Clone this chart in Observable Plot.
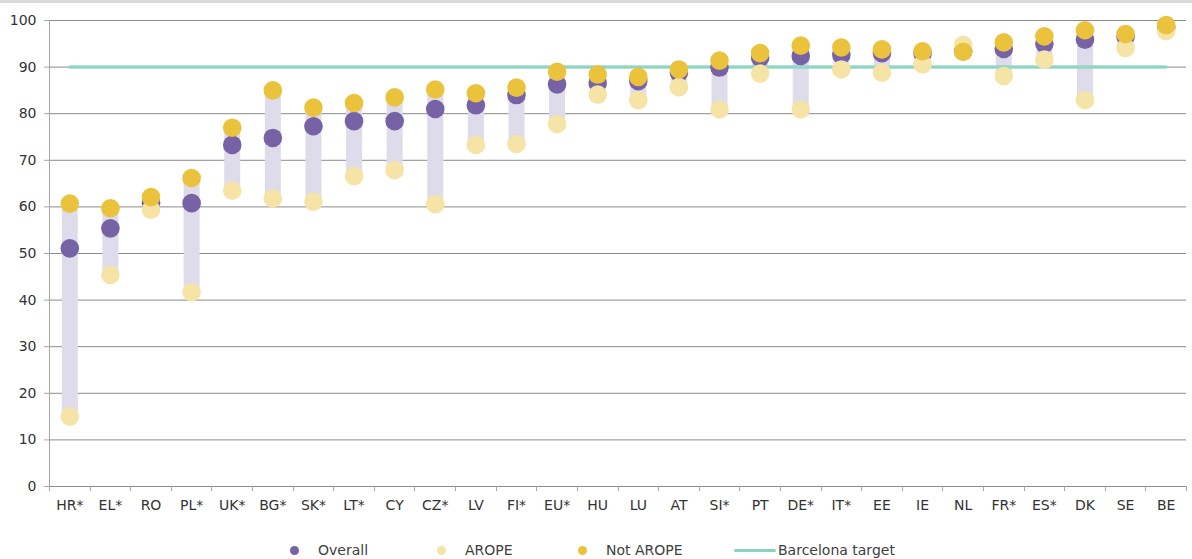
<!DOCTYPE html>
<html><head><meta charset="utf-8">
<script src="https://cdn.jsdelivr.net/npm/d3@7"></script>
<script src="https://cdn.jsdelivr.net/npm/@observablehq/plot@0.6"></script>
<style>
body{margin:0;background:#fff;font-family:"DejaVu Sans",Verdana,sans-serif;}
#top{height:3px;background:#d9d9d9;}
#legend{position:relative;height:25px;font-size:14px;color:#404040;}
#legend .it{position:absolute;top:8px;display:flex;align-items:center;white-space:nowrap;}
</style></head>
<body>
<div id="top"></div>
<div id="chart"></div>
<div id="legend"></div>
<script>
const countries = ["HR*","EL*","RO","PL*","UK*","BG*","SK*","LT*","CY","CZ*","LV","FI*","EU*","HU","LU","AT","SI*","PT","DE*","IT*","EE","IE","NL","FR*","ES*","DK","SE","BE"];
const overall   = [51.1,55.4,60.8,60.8,73.3,74.8,77.3,78.4,78.4,81.0,81.8,84.0,86.3,86.6,87.0,88.8,89.9,92.0,92.4,92.6,93.0,92.9,93.4,93.9,95.0,95.9,96.5,98.4];
const arope     = [15.0,45.4,59.4,41.7,63.5,61.8,61.1,66.6,67.9,60.6,73.3,73.5,77.8,84.1,82.9,85.7,80.9,88.6,80.9,89.5,88.8,90.6,94.8,88.1,91.6,82.9,94.1,97.7];
const notArope  = [60.7,59.7,62.1,66.2,77.0,85.0,81.3,82.3,83.5,85.2,84.4,85.6,89.0,88.4,87.9,89.5,91.4,93.0,94.6,94.2,93.8,93.4,93.3,95.3,96.6,97.9,97.1,99.0];
const barcelonaTarget = 90;
const yTicks = [0,10,20,30,40,50,60,70,80,90,100];

const colors = {overall:"#7762a6", arope:"#f6e4a6", notArope:"#ebc23c", bar:"#dedbea", target:"#86d6bf"};

const data = countries.map((c,i)=>({country:c, overall:overall[i], arope:arope[i], notArope:notArope[i]}));

const axisLines = (index, scales, values, dim) => {
  const g = d3.create("svg:g").attr("stroke","#a6a6a6").attr("stroke-width",1);
  const y0 = scales.y(0), y100 = scales.y(100);
  const left = dim.marginLeft, right = dim.width - dim.marginRight;
  g.append("line").attr("x1",left+0.5).attr("x2",left+0.5).attr("y1",y100).attr("y2",y0+5);
  const xs = countries.map(c=>scales.x(c)).concat([right]);
  xs.forEach(x=>g.append("line").attr("x1",Math.round(x)+0.5).attr("x2",Math.round(x)+0.5).attr("y1",y0).attr("y2",y0+5));
  return g.node();
};

const chart = Plot.plot({
  width: 1192,
  height: 531,
  marginTop: 17,
  marginLeft: 49,
  marginRight: 6,
  marginBottom: 48,
  style: {fontFamily:"DejaVu Sans, Verdana, sans-serif", fontSize:"14px", color:"#333", background:"#fff"},
  x: {type: "band", domain: countries, padding: 0, round: false, label: null},
  y: {domain: [0,100], label: null},
  marks: [
    Plot.ruleY(yTicks, {y: d=>d, stroke:"#8c8c8c", strokeWidth:1}),
    Plot.axisY({ticks: yTicks, tickSize: 5, tickPadding: 8, label: null, stroke:"#a6a6a6"}),
    Plot.axisX({tickSize: 0, tickPadding: 14, label: null}),
    axisLines,
    Plot.ruleX(data, {x:"country", y1:"arope", y2:"notArope", stroke: colors.bar, strokeWidth: 16}),
    Plot.lineY(countries, {x: d=>d, y: ()=>barcelonaTarget, stroke: colors.target, strokeWidth: 3.5, strokeOpacity: 0.85}),
    Plot.dot(data, {x:"country", y:"overall", r:9.3, fill: colors.overall}),
    Plot.dot(data, {x:"country", y:"arope", r:9.3, fill: colors.arope}),
    Plot.dot(data, {x:"country", y:"notArope", r:9.3, fill: colors.notArope})
  ]
});
document.getElementById("chart").appendChild(chart);

const legendItems = [
  {label:"Overall", color: colors.overall, type:"dot", x:290},
  {label:"AROPE", color: colors.arope, type:"dot", x:437},
  {label:"Not AROPE", color: colors.notArope, type:"dot", x:578},
  {label:"Barcelona target", color: colors.target, type:"line", x:734}
];
const lg = document.getElementById("legend");
legendItems.forEach(it=>{
  const d = document.createElement("div");
  d.className = "it";
  d.style.left = it.x + "px";
  const sw = document.createElement("span");
  if (it.type === "dot") {
    sw.style.cssText = `display:inline-block;width:9px;height:9px;border-radius:50%;background:${it.color};margin-right:19px;`;
  } else {
    sw.style.cssText = `display:inline-block;width:42px;height:3px;border-radius:2px;background:${it.color};margin-right:2px;`;
  }
  d.appendChild(sw);
  d.appendChild(document.createTextNode(it.label));
  lg.appendChild(d);
});
</script>
</body></html>
